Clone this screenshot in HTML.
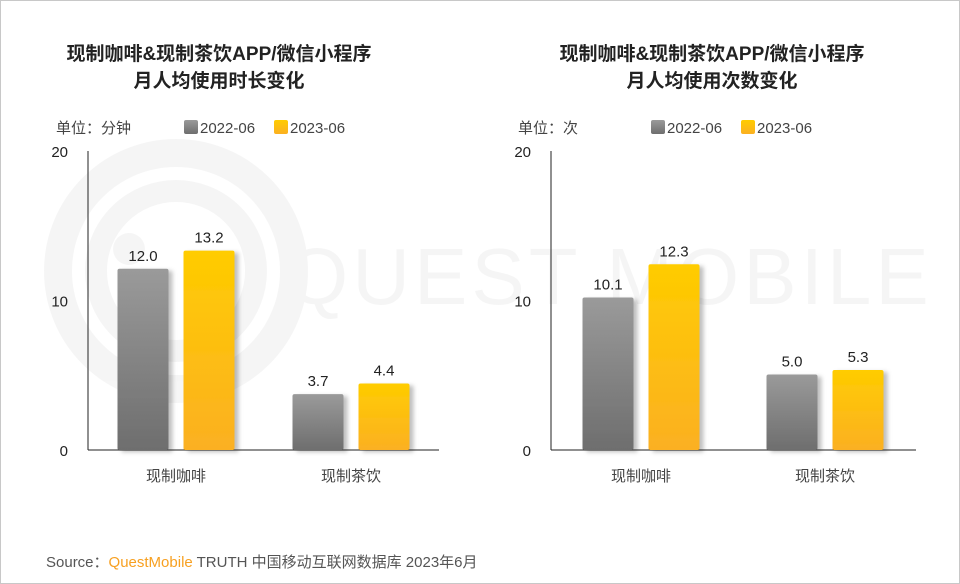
<!DOCTYPE html>
<html><head><meta charset="utf-8"><style>
body{margin:0;background:#fff;}
#wrap{position:relative;width:958px;height:582px;border:1px solid #c8c8c8;overflow:hidden;font-family:"Liberation Sans","Noto Sans CJK SC",sans-serif;}
svg{position:absolute;left:0;top:0}
</style></head><body>
<div id="wrap">
<svg id="svg" width="960" height="584">
<defs>
<linearGradient id="gg" x1="0" y1="0" x2="0" y2="1"><stop offset="0" stop-color="#9a9a9a"/><stop offset="1" stop-color="#6e6e6e"/></linearGradient>
<linearGradient id="gy" x1="0" y1="0" x2="0" y2="1"><stop offset="0" stop-color="#ffcc00"/><stop offset="1" stop-color="#fbb022"/></linearGradient>
<filter id="sh" x="-20%" y="-10%" width="150%" height="120%"><feDropShadow dx="4" dy="2" stdDeviation="2" flood-color="#000" flood-opacity="0.25"/></filter>
</defs>
<g opacity="0.035" fill="none" stroke="#000">
<circle cx="175" cy="270" r="118" stroke-width="28"/>
<circle cx="175" cy="270" r="80" stroke-width="22"/>
<circle cx="128" cy="248" r="16" fill="#000" stroke="none"/>
<text x="285" y="303" font-size="80" fill="#000" stroke="none" font-family="Liberation Sans" letter-spacing="4">QUEST MOBILE</text>
</g>
</svg>
</div>
<script>
const categories=["现制咖啡","现制茶饮"];
const seriesNames=["2022-06","2023-06"];
const leftValues2022=[12.0,3.7];
const leftValues2023=[13.2,4.4];
const rightValues2022=[10.1,5.0];
const rightValues2023=[12.3,5.3];
const yTicks=[0,10,20];
const svg=document.getElementById('svg');
const NS='http://www.w3.org/2000/svg';
function mk(tag,attrs,parent){const e=document.createElementNS(NS,tag);for(const k in attrs)e.setAttribute(k,attrs[k]);(parent||svg).appendChild(e);return e;}
function txt(x,y,s,size,fill,anchor,weight){const t=mk('text',{x:x,y:y,'font-size':size,fill:fill,'text-anchor':anchor||'start','font-weight':weight||'normal'});t.textContent=s;return t;}
function chart(cfg){
  const g=mk('g',{});
  
  
  const y=v=>449-v*15.1;
  let t=txt(cfg.cx,59,"现制咖啡&现制茶饮APP/微信小程序",19,'#222','middle','bold');
  
  t=txt(cfg.cx,86,cfg.title2,19,'#222','middle','bold');
  
  t=txt(cfg.unitX,132,cfg.unit,15,'#444');
  
  const grads=['url(#gg)','url(#gy)'];
  seriesNames.forEach((s,i)=>{
    const lx=cfg.legX+i*90;
    const r=mk('rect',{x:lx,y:119,width:14,height:14,rx:2,fill:grads[i]});
    
    const lt=txt(lx+16,132,s,15,'#444');
    
  });
  yTicks.forEach(v=>{const tk=txt(cfg.ax-20,449-v*14.95+6,String(v),15,'#222','end');
    });
  const ya=mk('line',{x1:cfg.ax,y1:150,x2:cfg.ax,y2:449,stroke:'#222','stroke-width':1});
  
  const xa=mk('line',{x1:cfg.ax,y1:449,x2:cfg.ax+cfg.w,y2:449,stroke:'#222','stroke-width':1});
  
  const bw=51,gap=15;
  categories.forEach((c,ci)=>{
    const cx=cfg.centers[ci];
    const vals=[cfg.v1[ci],cfg.v2[ci]];
    vals.forEach((v,si)=>{
      const bx=cx-bw-gap/2+si*(bw+gap);
      const b=mk('rect',{x:bx,y:y(v),width:bw,height:449-y(v),rx:2,fill:grads[si],filter:'url(#sh)'});
      
      
      const l=txt(bx+bw/2,y(v)-8,v.toFixed(1),15,'#222','middle');
      
    });
    const cl=txt(cx,480,c,15,'#444','middle');
    
  });
}
chart({name:'duration-chart',cx:218,title2:'月人均使用时长变化',unit:'单位：分钟',unitX:55,legX:183,ax:87,w:351,centers:[175,350],v1:leftValues2022,v2:leftValues2023});
chart({name:'frequency-chart',cx:711,title2:'月人均使用次数变化',unit:'单位：次',unitX:517,legX:650,ax:550,w:365,centers:[640,824],v1:rightValues2022,v2:rightValues2023});
const s=mk('text',{x:45,y:566,'font-size':15,fill:'#555'});


s.innerHTML='Source：<tspan fill="#f7a021">QuestMobile</tspan> TRUTH 中国移动互联网数据库 2023年6月';
</script>
</body></html>
